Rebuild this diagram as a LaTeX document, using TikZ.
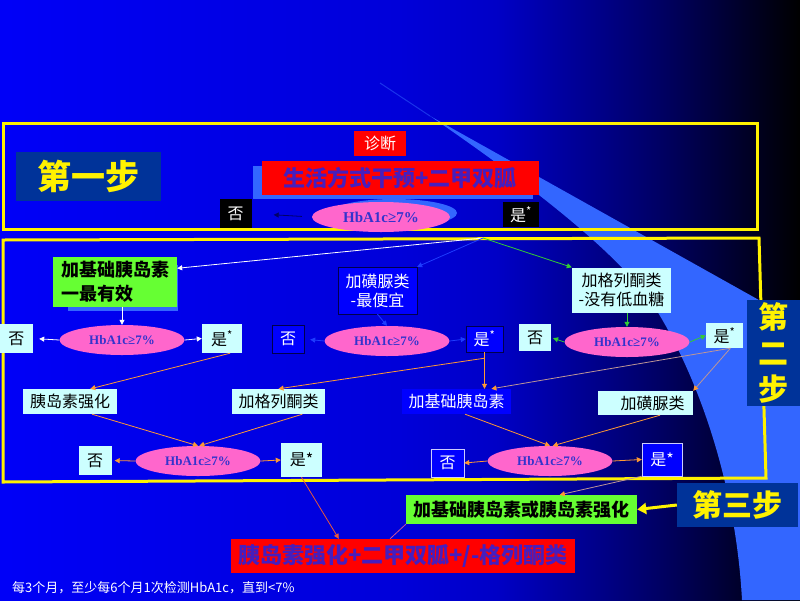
\documentclass[tikz,border=0pt]{standalone}
\usepackage{fontspec}
\setmainfont{Noto Sans CJK SC}
\newfontfamily\hbfont{Liberation Serif}
\usetikzlibrary{shapes.geometric,arrows.meta}
\definecolor{pptblue}{RGB}{0,0,255}
\definecolor{beamblue}{RGB}{51,102,255}
\definecolor{stepblue}{RGB}{0,51,153}
\definecolor{palecyan}{RGB}{204,255,255}
\definecolor{ovalpink}{RGB}{255,102,204}
\definecolor{ovaltext}{RGB}{51,51,204}
\definecolor{redtext}{RGB}{70,30,190}
\definecolor{boxgreen}{RGB}{102,255,51}
\definecolor{lineorange}{RGB}{255,153,51}
\definecolor{linemute}{RGB}{190,150,150}
\definecolor{linegreen}{RGB}{51,204,51}
\definecolor{lineblue}{RGB}{30,60,255}
\definecolor{linered}{RGB}{230,90,60}
\definecolor{linepink}{RGB}{200,80,160}
\pgfdeclarehorizontalshading{slidebg}{100bp}{rgb(0bp)=(0,0,0.97); rgb(25bp)=(0,0,0.97); rgb(50bp)=(0,0,0.85); rgb(56bp)=(0,0,0.78); rgb(66bp)=(0,0,0.4); rgb(75bp)=(0,0,0); rgb(100bp)=(0,0,0)}
\begin{document}
\begin{tikzpicture}[x=1pt,y=-1pt,
  every node/.style={inner sep=0pt},
  palebox/.style={fill=palecyan,text=black,font=\fontsize{16}{19}\selectfont},
  bluebox/.style={fill=pptblue,text=white,font=\fontsize{16}{19}\selectfont},
  blackbox/.style={fill=black,text=white,font=\fontsize{16}{19}\selectfont},
  redbox/.style={fill=red,text=redtext,font=\bfseries\fontsize{22}{26}\selectfont},
  stepbox/.style={fill=stepblue,text=yellow,font=\bfseries\fontsize{30}{36}\selectfont},
  testoval/.style={ellipse,fill=ovalpink,text=ovaltext,minimum width=125pt,minimum height=30pt,font=\hbfont\bfseries\fontsize{13}{13}\selectfont},
  yframe/.style={draw=yellow,line width=3pt},
  arrowtip/.style={-{Triangle[length=5pt,width=5pt]}},
  warr/.style={arrowtip,white,line width=.8pt},
  barr/.style={arrowtip,lineblue,line width=.8pt},
  garr/.style={arrowtip,linegreen,line width=.8pt},
  oarr/.style={arrowtip,lineorange,line width=.8pt},
  marr/.style={-{Triangle[length=5pt,width=5pt,color=lineorange]},linemute,line width=.8pt}
]
\shade[shading=slidebg] (0,0) rectangle (800,600);
\draw[beamblue,opacity=.5,line width=1pt] (380,83) -- (430,116);
\fill[beamblue] (430,116) -- (800,323) -- (800,600) -- (742,600) .. controls (735,470) and (690,360) .. (650,300) .. controls (620,260) and (560,205) .. cycle;

\draw[yframe] (3,123) rectangle (757,229);
\draw[yframe] (3,240) -- (759,238) -- (766,478) -- (3,482) -- cycle;

% step 1
\node[stepbox,font=\bfseries\fontsize{34}{40}\selectfont,minimum width=145pt,minimum height=49pt] (step1) at (88.5,176.5) {第一步};
\node[fill=red,text=white,font=\fontsize{16}{19}\selectfont,minimum width=52pt,minimum height=25pt] (diag) at (380,143.5) {诊断};
\fill[beamblue] (253,166) rectangle (533,199);
\node[redbox,minimum width=277pt,minimum height=34pt] (life) at (400,178) {生活方式干预+二甲双胍};
\fill[beamblue] (394,213) ellipse (63 and 14);
\node[testoval,minimum width=138pt,font=\hbfont\bfseries\fontsize{15}{15}\selectfont] (topoval) at (381,217) {HbA1c≥7\%};
\node[blackbox,minimum width=32pt,minimum height=29pt] (topno) at (235.5,213.5) {否};
\node[blackbox,minimum width=36pt,minimum height=25pt] (topyes) at (521,214.5) {是\textsuperscript{*}};

% step 2
\fill[beamblue] (68,265) rectangle (178,311);
\node[fill=boxgreen,text=black,font=\bfseries\fontsize{18}{24}\selectfont,align=left,minimum width=124pt,minimum height=50pt] (basal) at (115,281.5) {加基础胰岛素\\一最有效};
\node[bluebox,draw=black!70!blue,align=center,minimum width=79pt,minimum height=47pt] (sulf) at (377.5,290.5) {加磺脲类\\-最便宜};
\node[palebox,align=center,minimum width=99pt,minimum height=45pt] (glit) at (621.5,290) {加格列酮类\\-没有低血糖};

\node[testoval] (oa) at (122,340) {HbA1c≥7\%};
\node[testoval] (ob) at (387,341) {HbA1c≥7\%};
\node[testoval] (oc) at (627,342) {HbA1c≥7\%};
\node[palebox,minimum width=33pt,minimum height=29pt] (na) at (16.5,338.5) {否};
\node[palebox,minimum width=40pt,minimum height=29pt] (ya) at (222,338.5) {是\textsuperscript{*}};
\node[bluebox,draw=black!70!blue,minimum width=32pt,minimum height=28pt] (nb) at (288,339) {否};
\node[bluebox,draw=black!70!blue,minimum width=37pt,minimum height=26pt] (yb) at (484.5,339) {是\textsuperscript{*}};
\node[palebox,minimum width=32pt,minimum height=27pt] (nc) at (535,337.5) {否};
\node[palebox,minimum width=37pt,minimum height=25pt] (yc) at (724.5,335.5) {是\textsuperscript{*}};

\node[palebox,minimum width=94pt,minimum height=25pt] (insint) at (70,401.5) {胰岛素强化};
\node[palebox,minimum width=93pt,minimum height=25pt] (glit2) at (278.5,401.5) {加格列酮类};
\node[bluebox,minimum width=109pt,minimum height=25pt] (basal2) at (456.5,401.5) {加基础胰岛素};
\node[palebox,minimum width=95pt,minimum height=24pt] (sulf2) at (645.5,403) {\hspace{14pt}加磺脲类};

\node[testoval] (od) at (198,461) {HbA1c≥7\%};
\node[testoval] (oe) at (550,461) {HbA1c≥7\%};
\node[palebox,minimum width=33pt,minimum height=29pt] (nd) at (95,460.5) {否};
\node[palebox,minimum width=41pt,minimum height=34pt] (yd) at (301.5,460) {是*};
\node[bluebox,draw=white!80!blue,minimum width=33pt,minimum height=28pt] (ne) at (447.5,463) {否};
\node[bluebox,draw=white!80!blue,minimum width=40pt,minimum height=33pt] (ye) at (662,459.5) {是*};

\node[stepbox,align=center,minimum width=53pt,minimum height=106pt] (step2) at (773.5,353) {第\\二\\步};

% step 3
\node[fill=boxgreen,text=black,font=\bfseries\fontsize{18}{22}\selectfont,minimum width=231pt,minimum height=29pt] (green3) at (521.5,509.5) {加基础胰岛素或胰岛素强化};
\node[stepbox,minimum width=121pt,minimum height=44pt] (step3) at (737.5,505) {第三步};
\node[redbox,minimum width=344pt,minimum height=34pt] (final) at (403,556) {胰岛素强化+二甲双胍+/-格列酮类};
\node[anchor=west,text=white,font=\fontsize{13}{15}\selectfont] (note) at (12,588) {每3个月，至少每6个月1次检测HbA1c，直到<7\%};

\draw[arrowtip,black!60!blue,line width=.8pt,shorten <=10pt,shorten >=22pt] (topoval.west) -- (topno.east);
\coordinate (split) at (483,238);
\draw[warr] (split) -- (basal.12);
\draw[barr] (split) -- (sulf.north east);
\draw[garr] (split) -- (glit.north west);

\draw[warr] (basal.south -| oa.north) -- (oa.north);
\draw[warr,shorten >=6pt] (oa.west) -- (na.east);
\draw[warr] (oa.east) -- (ya.west);
\draw[barr] (sulf.south) -- (ob.north);
\draw[barr,shorten >=6pt] (ob.west) -- (nb.east);
\draw[barr] (ob.east) -- (yb.west);
\draw[garr] (glit.south -| oc.north) -- (oc.north);
\draw[garr,shorten >=2pt] (oc.west) -- (nc.east);
\draw[garr] (oc.east) -- (yc.west);

\draw[oarr] (ya.-61) -- (insint.32);
\draw[oarr] (yb.south) -- ++(0,6) coordinate (ybk) -- (ybk |- basal2.north);
\draw[oarr] (ybk) -- (glit2.north);
\draw[marr] (yc.-65) -- (sulf2.north east);
\draw[marr] (yc.-65) -- (basal2.20);

\draw[oarr] (insint.-30) -- (od.north);
\draw[oarr] (glit2.-28) -- (od.85);
\draw[oarr,shorten >=3pt] (od.west) -- (nd.east);
\draw[oarr] (od.east) -- (yd.west);
\draw[oarr] (basal2.-56) -- (oe.north);
\draw[oarr] (sulf2.-40) -- (oe.80);
\draw[oarr] (oe.west) -- (ne.east);
\draw[oarr] (oe.east) -- (ye.west);

\draw[marr] (ye.south west) -- (green3.21);
\draw[yellow,line width=3pt,-{Triangle[length=9pt,width=11pt]}] (step3.west) -- (green3.east);
\draw[arrowtip,linered,line width=.8pt] (yd.south) -- (final.165);
\draw[linepink,line width=.8pt] (green3.south west) -- (final.127);
\end{tikzpicture}
\end{document}
